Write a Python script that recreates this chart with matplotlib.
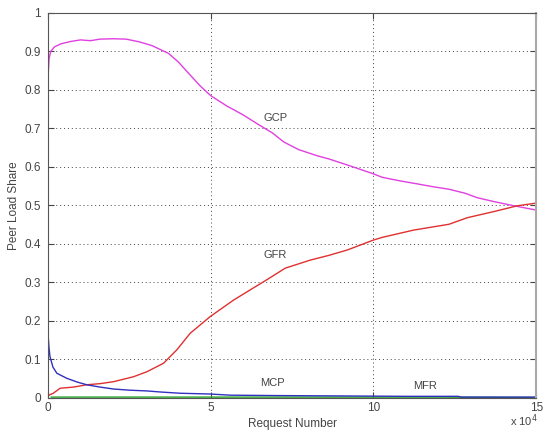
import matplotlib
matplotlib.use('Agg')
import matplotlib.pyplot as plt

plt.rcParams['font.family'] = ['Liberation Sans', 'DejaVu Sans']

# Request number (x 10^4) and peer load shares
gcp_x = [0, 0.005, 0.03, 0.08, 0.2, 0.4, 0.7, 1.0, 1.3, 1.6, 2.0, 2.4, 2.8, 3.2, 3.7,
         4.0, 4.3, 4.68, 5.0, 5.5, 6.0, 6.43, 6.9, 7.24, 7.7, 8.27, 8.62, 9.2, 10.0, 10.27,
         10.8, 11.34, 11.8, 12.32, 12.8, 13.19, 13.7, 14.32, 15.0]
gcp_y = [0, 0.84, 0.88, 0.90, 0.912, 0.92, 0.926, 0.93, 0.928, 0.932, 0.933, 0.932, 0.925,
         0.915, 0.895, 0.873, 0.845, 0.81, 0.785, 0.758, 0.735, 0.712, 0.688, 0.665, 0.645,
         0.629, 0.621, 0.605, 0.582, 0.573, 0.564, 0.556, 0.549, 0.542, 0.532, 0.520, 0.510,
         0.499, 0.488]

gfr_x = [0, 0.05, 0.16, 0.37, 0.78, 1.19, 1.6, 2.01, 2.3, 2.63, 3.04, 3.55, 3.96, 4.37,
         4.98, 5.7, 6.22, 6.63, 7.29, 8.06, 8.62, 9.19, 10.0, 10.27, 11.24, 12.32, 12.88,
         13.7, 14.42, 15.0]
gfr_y = [0.005, 0.008, 0.012, 0.025, 0.028, 0.034, 0.037, 0.042, 0.048, 0.055, 0.068,
         0.090, 0.125, 0.168, 0.211, 0.254, 0.281, 0.302, 0.337, 0.358, 0.370, 0.384,
         0.410, 0.417, 0.436, 0.451, 0.468, 0.484, 0.499, 0.506]

mcp_x = [0, 0.005, 0.03, 0.06, 0.15, 0.27, 0.57, 0.9, 1.19, 1.6, 2.01, 2.5, 3.04, 3.5,
         4.06, 4.98, 5.6, 7.0, 9.0, 11.0, 12.6, 12.7, 15.0]
mcp_y = [1.0, 0.16, 0.13, 0.107, 0.08, 0.064, 0.051, 0.041, 0.034, 0.028, 0.023, 0.020,
         0.018, 0.015, 0.012, 0.010, 0.007, 0.006, 0.005, 0.004, 0.004, 0.002, 0.002]

mfr_x = [0.1, 3.0, 6.0, 9.0, 12.0, 15.0]
mfr_y = [0.002, 0.002, 0.002, 0.002, 0.002, 0.001]

labels = [('GCP', 6.98, 0.727), ('GFR', 6.98, 0.371), ('MCP', 6.9, 0.039), ('MFR', 11.6, 0.031)]

txt = '#444444'
fig = plt.figure(figsize=(5.46, 4.32), dpi=100)
ax = fig.add_axes([0.088, 0.079, 0.894, 0.891])

ax.plot(gcp_x, gcp_y, color='#e040e0', lw=1)
ax.plot(gfr_x, gfr_y, color='#e03030', lw=1)
ax.plot(mfr_x, mfr_y, color='#20a020', lw=1)
ax.plot(mcp_x, mcp_y, color='#3030c0', lw=1)

for name, x, y in labels:
    ax.text(x, y, name, fontsize=8, color=txt, ha='center', va='center')

ax.set_xlim(0, 15)
ax.set_ylim(0, 1)
ax.set_xticks([0, 5, 10, 15])
ax.set_yticks([i / 10 for i in range(11)])
ax.set_yticklabels(['0', '0.1', '0.2', '0.3', '0.4', '0.5', '0.6', '0.7', '0.8', '0.9', '1'])
ax.grid(True, linestyle=(0, (1, 3)), color='#444444', lw=0.7)
ax.tick_params(direction='in', top=True, right=True, labelsize=8.5, colors=txt, length=4)
ax.tick_params(axis='x', pad=3)
ax.tick_params(axis='y', pad=5)
for s in ax.spines.values():
    s.set_color('#555555')
ax.spines['right'].set_color('#aaaaaa')
ax.spines['right'].set_linewidth(1.5)

ax.set_xlabel('Request Number', fontsize=8.5, color=txt, labelpad=3)
ax.set_ylabel('Peer Load Share', fontsize=8.5, color=txt, labelpad=3)
fig.text(0.985, 0.006, r'x 10$^4$', fontsize=8, color=txt, ha='right', va='bottom')

fig.savefig('out.png', dpi=100)
